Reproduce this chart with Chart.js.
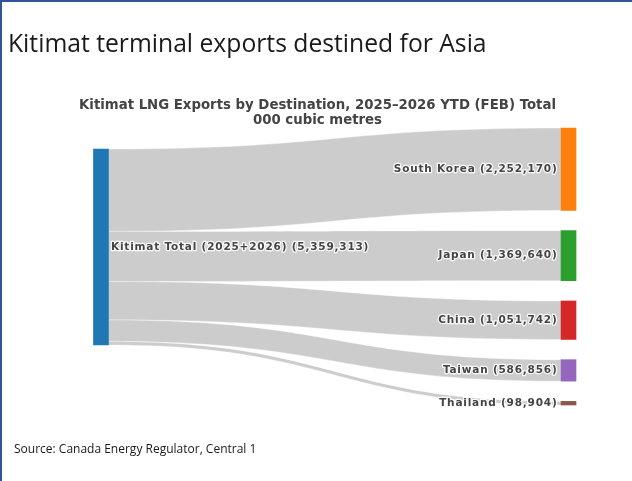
<!DOCTYPE html>
<html>
<head>
<meta charset="utf-8">
<script src="https://cdn.jsdelivr.net/npm/chart.js@4"></script>
<style>
  html, body { margin: 0; padding: 0; background: #fff; }
  #slide {
    position: relative; width: 632px; height: 481px; overflow: hidden;
    box-sizing: border-box; border-top: 2px solid #2f5597; border-left: 2px solid #2f5597;
  }
  #heading {
    position: absolute; left: 6px; top: 24px; margin: 0;
    font: 400 24.7px "Open Sans", sans-serif; color: #1a1a1a; white-space: nowrap;
  }
  #source {
    position: absolute; left: 12px; top: 438px;
    font: 400 12px "Open Sans", sans-serif; color: #1a1a1a; white-space: nowrap;
  }
  #chart { position: absolute; left: -2px; top: -2px; }
</style>
</head>
<body>
<div id="slide">
  <canvas id="chart" width="632" height="481"></canvas>
  <h1 id="heading">Kitimat terminal exports destined for Asia</h1>
  <div id="source">Source: Canada Energy Regulator, Central 1</div>
</div>
<script>
// Kitimat LNG exports by destination, 000 cubic metres
const sourceName = 'Kitimat Total (2025+2026)';
const sourceTotal = 5359313;
const destinations = ['South Korea', 'Japan', 'China', 'Taiwan', 'Thailand'];
const volumes = [2252170, 1369640, 1051742, 586856, 98904];
const sourceColor = '#1f77b4';
const destColors = ['#ff7f0e', '#2ca02c', '#d62728', '#9467bd', '#8c564b'];

// layout in value units
const NODE_GAP = 553700;
const SOURCE_OFFSET = 574000;

const fmt = n => n.toLocaleString('en-US');

// stack the destination nodes with gaps
const targetSpans = [];
let cursor = 0;
volumes.forEach(v => {
  targetSpans.push([cursor, cursor + v]);
  cursor += v + NODE_GAP;
});
const yMax = cursor - NODE_GAP;
const sourceSpan = [SOURCE_OFFSET, SOURCE_OFFSET + volumes.reduce((a, b) => a + b, 0)];

const sankeyLinks = {
  id: 'sankeyLinks',
  beforeDatasetsDraw(chart) {
    const { ctx, scales: { x, y } } = chart;
    const x0 = x.getPixelForValue(0) + 7.5;
    const x1 = x.getPixelForValue(1) - 7.5;
    const xm = (x0 + x1) / 2;
    let s = sourceSpan[0];
    ctx.save();
    volumes.forEach((v, i) => {
      const sy0 = y.getPixelForValue(s), sy1 = y.getPixelForValue(s + v);
      const ty0 = y.getPixelForValue(targetSpans[i][0]), ty1 = y.getPixelForValue(targetSpans[i][1]);
      ctx.beginPath();
      ctx.moveTo(x0, sy0);
      ctx.bezierCurveTo(xm, sy0, xm, ty0, x1, ty0);
      ctx.lineTo(x1, ty1);
      ctx.bezierCurveTo(xm, ty1, xm, sy1, x0, sy1);
      ctx.closePath();
      ctx.fillStyle = 'rgba(0,0,0,0.2)';
      ctx.fill();
      ctx.strokeStyle = 'rgba(255,255,255,0.7)';
      ctx.lineWidth = 0.5;
      ctx.stroke();
      s += v;
    });
    ctx.restore();
  },
  afterDatasetsDraw(chart) {
    const { ctx, scales: { x, y } } = chart;
    ctx.save();
    ctx.font = 'bold 10.5px "DejaVu Sans", Verdana, sans-serif';
    ctx.letterSpacing = '0.8px';
    ctx.textBaseline = 'middle';
    ctx.lineJoin = 'round';
    const label = (txt, px, py) => {
      ctx.strokeStyle = 'rgba(255,255,255,0.9)';
      ctx.lineWidth = 2.5;
      ctx.strokeText(txt, px, py);
      ctx.fillStyle = '#444';
      ctx.fillText(txt, px, py);
    };
    ctx.textAlign = 'left';
    label(`${sourceName} (${fmt(sourceTotal)})`, x.getPixelForValue(0) + 10,
      y.getPixelForValue((sourceSpan[0] + sourceSpan[1]) / 2));
    ctx.textAlign = 'right';
    destinations.forEach((d, i) => {
      label(`${d} (${fmt(volumes[i])})`, x.getPixelForValue(1) - 11,
        y.getPixelForValue((targetSpans[i][0] + targetSpans[i][1]) / 2));
    });
    ctx.restore();
  }
};

new Chart(document.getElementById('chart'), {
  type: 'bar',
  data: {
    datasets: [{
      data: [{ x: 0, y: sourceSpan }].concat(targetSpans.map(sp => ({ x: 1, y: sp }))),
      backgroundColor: [sourceColor].concat(destColors),
      borderWidth: 0,
      barThickness: 15,
      clip: false
    }]
  },
  options: {
    responsive: false,
    animation: false,
    layout: { padding: { top: 98, bottom: 76, left: 3, right: 0 } },
    plugins: {
      legend: { display: false },
      tooltip: { enabled: false },
      title: {
        display: true,
        text: ['Kitimat LNG Exports by Destination, 2025\u20132026 YTD (FEB) Total', '000 cubic metres'],
        font: { family: '"DejaVu Sans", Verdana, sans-serif', size: 13.3, weight: 'bold', lineHeight: 1.13 },
        color: '#444',
        padding: { top: 0, bottom: 0 }
      }
    },
    scales: {
      x: { type: 'linear', min: -0.2096, max: 1.1358, offset: false, display: false },
      y: { min: 0, max: yMax, reverse: true, display: false }
    }
  },
  plugins: [sankeyLinks]
});
</script>
</body>
</html>
